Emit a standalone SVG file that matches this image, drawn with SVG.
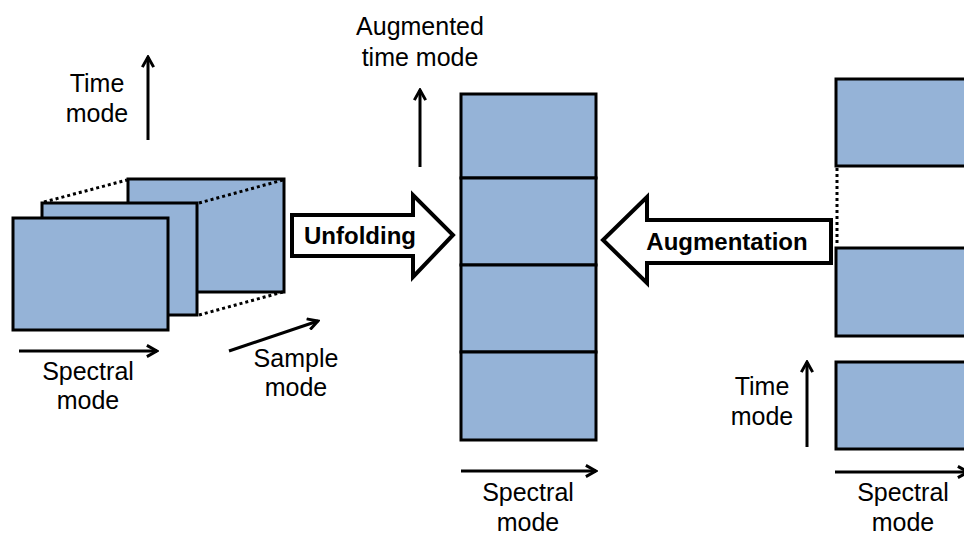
<svg xmlns="http://www.w3.org/2000/svg" width="964" height="536" viewBox="0 0 964 536">
<style>
.blk{fill:#95b3d7;stroke:#000;stroke-width:3}
.ax{fill:none;stroke:#000;stroke-width:3;marker-end:url(#ah)}
.dot{fill:none;stroke:#000;stroke-width:3;stroke-dasharray:3 3}
.lbl{font-family:"Liberation Sans",Arial,sans-serif;font-size:25px;fill:#000;text-anchor:middle}
.big{font-family:"Liberation Sans",Arial,sans-serif;font-size:24px;font-weight:bold;fill:#000;text-anchor:middle}
.fat{fill:#fff;stroke:#000;stroke-width:4;stroke-linejoin:miter}
</style>
<defs>
<marker id="ah" viewBox="0 0 10 10" refX="8.5" refY="5" markerWidth="4.5" markerHeight="4.5" orient="auto" markerUnits="strokeWidth">
<path d="M1,0.8 L8.5,5 L1,9.2" fill="none" stroke="#000" stroke-width="2.2"/>
</marker>
</defs>
<rect width="964" height="536" fill="#fff"/>

<g id="cube">
<rect class="blk" x="128" y="179" width="156" height="113"/>
<rect class="blk" x="42" y="203" width="155" height="112"/>
<rect class="blk" x="13" y="218" width="155" height="112"/>
</g>

<g id="center-column">
<rect class="blk" x="461" y="94" width="135" height="84"/>
<rect class="blk" x="461" y="178" width="135" height="87"/>
<rect class="blk" x="461" y="265" width="135" height="87"/>
<rect class="blk" x="461" y="352" width="135" height="88"/>
</g>

<g id="right-stack">
<rect class="blk" x="836" y="79" width="140" height="87"/>
<rect class="blk" x="836" y="248" width="140" height="88"/>
<rect class="blk" x="836" y="362" width="140" height="87"/>
</g>

<g id="unfolding">
<path class="fat" d="M292,215 L413,215 L413,195 L453,235 L413,277 L413,256 L292,256 Z"/>
<text class="big" x="360" y="244">Unfolding</text>
</g>

<g id="augmentation">
<path class="fat" d="M831,220 L647,220 L647,197 L603,240 L647,283 L647,263 L831,263 Z"/>
<text class="big" x="727" y="250">Augmentation</text>
</g>

<g id="connectors">
<line class="dot" x1="44" y1="202" x2="127" y2="180"/>
<line class="dot" x1="199" y1="203" x2="283" y2="180"/>
<line class="dot" x1="199" y1="315" x2="283" y2="292"/>
<line class="dot" x1="837" y1="168" x2="837" y2="246" stroke-width="2"/>
<line class="ax" x1="148" y1="140" x2="148" y2="57"/>
<line class="ax" x1="19" y1="351" x2="157" y2="351"/>
<line class="ax" x1="229" y1="351" x2="318" y2="321"/>
<line class="ax" x1="420" y1="167" x2="420" y2="90"/>
<line class="ax" x1="461" y1="471" x2="596" y2="471"/>
<line class="ax" x1="807" y1="447" x2="807" y2="362"/>
<line class="ax" x1="835" y1="472" x2="968" y2="472"/>
</g>

<g id="labels">
<text class="lbl" x="97" y="92">Time</text>
<text class="lbl" x="97" y="122">mode</text>
<text class="lbl" x="88" y="380">Spectral</text>
<text class="lbl" x="88" y="409">mode</text>
<text class="lbl" x="296" y="367">Sample</text>
<text class="lbl" x="296" y="396">mode</text>
<text class="lbl" x="420" y="35">Augmented</text>
<text class="lbl" x="420" y="66">time mode</text>
<text class="lbl" x="528" y="501">Spectral</text>
<text class="lbl" x="528" y="531">mode</text>
<text class="lbl" x="762" y="395">Time</text>
<text class="lbl" x="762" y="425">mode</text>
<text class="lbl" x="903" y="501">Spectral</text>
<text class="lbl" x="903" y="531">mode</text>
</g>
</svg>
